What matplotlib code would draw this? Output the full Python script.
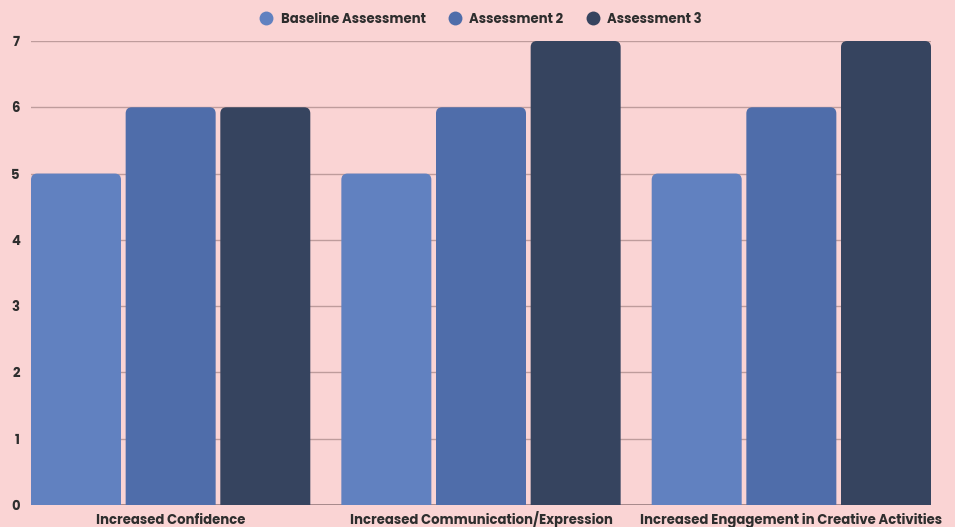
import numpy as np
import matplotlib.pyplot as plt
from matplotlib.patches import FancyBboxPatch
from matplotlib.lines import Line2D

categories = ['Increased Confidence', 'Increased Communication/Expression',
              'Increased Engagement in Creative Activities']
series_names = ['Baseline Assessment', 'Assessment 2', 'Assessment 3']
baseline = [5, 5, 5]
assessment2 = [6, 6, 6]
assessment3 = [6, 7, 7]
colors = ['#6181C0', '#4F6DAA', '#36445F']

bg = '#FAD4D4'
txt = '#2E2E2E'
plt.rcParams['font.family'] = ['Poppins', 'Lato', 'DejaVu Sans']

fig = plt.figure(figsize=(9.55, 5.27), dpi=100, facecolor=bg)
ax = fig.add_axes([31 / 955, 22 / 527, 900 / 955, 464 / 527], facecolor=bg)

x = np.arange(len(categories))
w = 0.29
step = 0.305
all_vals = [baseline, assessment2, assessment3]

# aspect of data units in pixels (x: 310 px/unit, y: 66.3 px/unit)
aspect = 310 / 66.3
for i, vals in enumerate(all_vals):
    bars = ax.bar(x + (i - 1) * step, vals, w, color=colors[i])
    for b in bars:
        b.set_visible(False)
        # rounded top corners; bottom pushed below axis and clipped
        p = FancyBboxPatch((b.get_x(), -0.5), b.get_width(), b.get_height() + 0.5,
                           boxstyle='round,pad=0,rounding_size=0.02',
                           mutation_aspect=aspect, facecolor=colors[i],
                           edgecolor='none', zorder=3)
        ax.add_patch(p)

ax.set_xlim(-0.45, 2.45)
ax.set_ylim(0, 7)
ax.set_yticks(range(0, 8))
ax.yaxis.grid(True, color='#BE9C9C', linewidth=1)
ax.set_axisbelow(True)
for s in ax.spines.values():
    s.set_visible(False)
ax.axhline(0, color='#9A7E80', linewidth=1.2, zorder=2)

ax.set_xticks(x)
ax.set_xticklabels(categories, fontsize=9.5, fontweight='bold', color=txt)
ax.tick_params(axis='both', length=0)
ax.tick_params(axis='x', pad=13.5)
ax.tick_params(axis='y', pad=8)
for lab in ax.get_xticklabels():
    lab.set_verticalalignment('baseline')
for lab in ax.get_yticklabels():
    lab.set_fontweight('bold')
    lab.set_fontsize(9.5)
    lab.set_color(txt)

handles = [Line2D([], [], marker='o', linestyle='none', markersize=10,
                  markerfacecolor=c, markeredgecolor='none') for c in colors]
fig.legend(handles, series_names, loc='center', bbox_to_anchor=(0.5, 1 - 20 / 527),
           ncol=3, frameon=False, handletextpad=0.1, columnspacing=1.2,
           prop={'weight': 'bold', 'size': 9.5}, labelcolor=txt)

fig.savefig('out.png', dpi=100, facecolor=bg)
